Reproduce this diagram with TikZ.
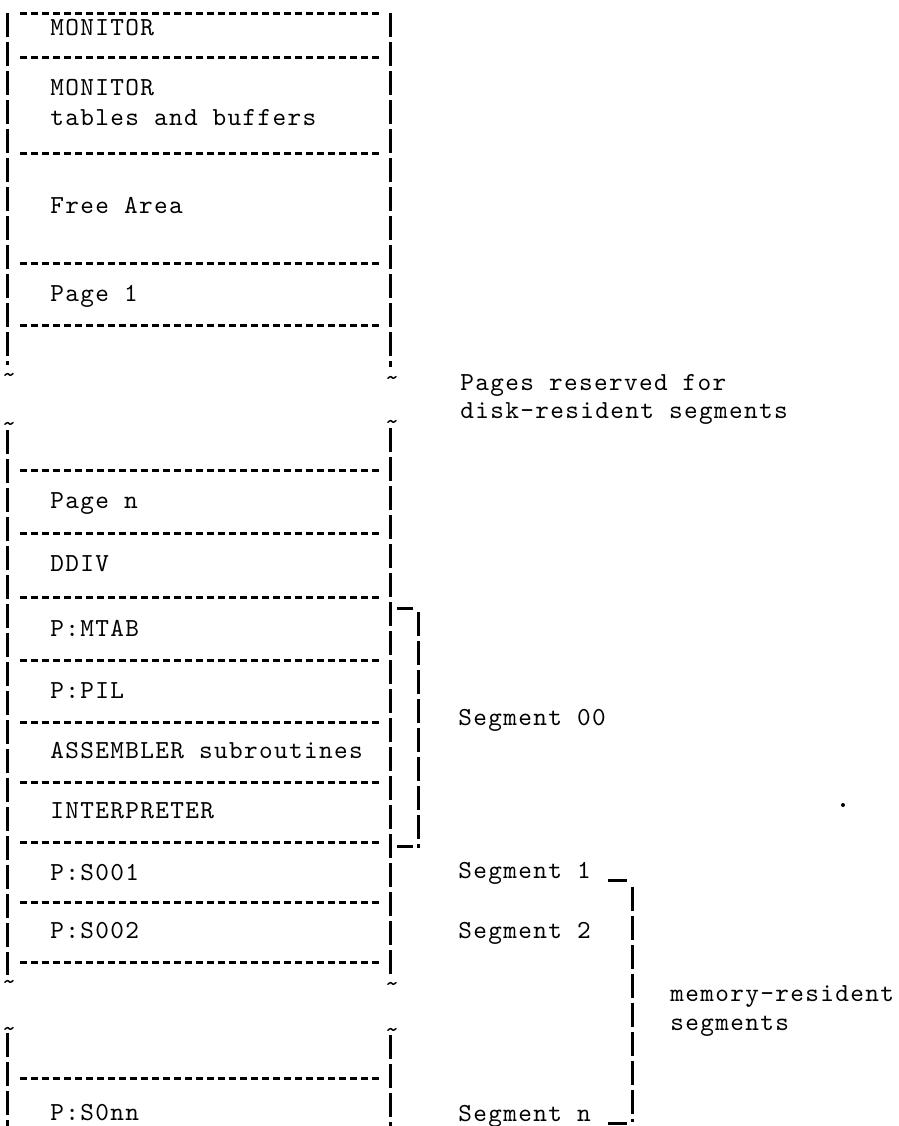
\documentclass[tikz,border=0pt]{standalone}
\usepackage{fontspec}
\newfontfamily\mapfont[LetterSpace=5.2]{lmmono10-regular.otf}
\usepackage{tikz}

\begin{document}
\begin{tikzpicture}[x=0.5pt,y=-0.5pt,
  rule/.style={line width=1.5pt,dash pattern=on 3.6pt off 1.9pt},
  wall/.style={line width=1.5pt,dash pattern=on 12pt off 2.5pt},
  brk/.style={line width=1.5pt},
  lbl/.style={anchor=base west,inner sep=0pt,font=\mapfont\fontsize{13}{16}\selectfont},
  tld/.style={inner sep=0pt,font=\ttfamily\fontsize{14}{17}\selectfont}]
  \useasboundingbox (0,0) rectangle (899,1126);
  % rows of the memory map
  \foreach \y in {13,57,153,263,325,470,533,597,660,722,782,842,902,962,1078}
    \draw[rule] (20,\y)--(382,\y);
  \draw[wall] (7,13)--(7,365); \draw[wall] (7,430)--(7,975); \draw[wall] (7,1033)--(7,1126);
  \draw[wall] (390,13)--(390,367); \draw[wall] (390,428)--(390,975); \draw[wall] (390,1035)--(390,1126);
  % breaks
  \node[tld] (brk1l) at (9,378) {\textasciitilde};
  \node[tld] (brk1r) at (392,381) {\textasciitilde};
  \node[tld] (brk2l) at (9,427) {\textasciitilde};
  \node[tld] (brk2r) at (392,425) {\textasciitilde};
  \node[tld] (brk3l) at (9,985) {\textasciitilde};
  \node[tld] (brk3r) at (392,987) {\textasciitilde};
  \node[tld] (brk4l) at (9,1032) {\textasciitilde};
  \node[tld] (brk4r) at (392,1033) {\textasciitilde};
  % contents
  \node[lbl] (mon) at (50,35) {MONITOR};
  \node[lbl] (montab) at (50,95) {MONITOR};
  \node[lbl] (buf) at (50,125) {tables and buffers};
  \node[lbl] (free) at (50,213) {Free Area};
  \node[lbl] (pg1) at (50,301) {Page 1};
  \node[lbl] (pgn) at (50,508) {Page n};
  \node[lbl] (ddiv) at (50,571) {DDIV};
  \node[lbl] (mtab) at (50,636) {P:MTAB};
  \node[lbl] (pil) at (50,698) {P:PIL};
  \node[lbl] (asm) at (50,758) {ASSEMBLER subroutines};
  \node[lbl] (interp) at (50,818) {INTERPRETER};
  \node[lbl] (s001) at (50,880) {P:S001};
  \node[lbl] (s002) at (50,938) {P:S002};
  \node[lbl] (s0nn) at (50,1120) {P:S0nn};
  % notes at the right
  \node[lbl] (disk1) at (460,390) {Pages reserved for};
  \node[lbl] (disk2) at (460,418) {disk-resident segments};
  \node[lbl] (seg00) at (458,725) {Segment 00};
  \node[lbl] (seg1) at (458,878) {Segment 1};
  \node[lbl] (seg2) at (458,938) {Segment 2};
  \node[lbl] (segn) at (458,1121) {Segment n};
  \node[lbl] (mem1) at (670,1001) {memory-resident};
  \node[lbl] (mem2) at (670,1030) {segments};
  % brackets
  \draw[brk] (397,608)--(413,608); \draw[wall] (418,612)--(418,848); \draw[brk] (397,846)--(413,846);
  \draw[brk] (608,880)--(627,880); \draw[wall] (632,887)--(632,1122); \draw[brk] (608,1123)--(627,1123);
  \fill (843,805) circle (1pt);
\end{tikzpicture}
\end{document}
